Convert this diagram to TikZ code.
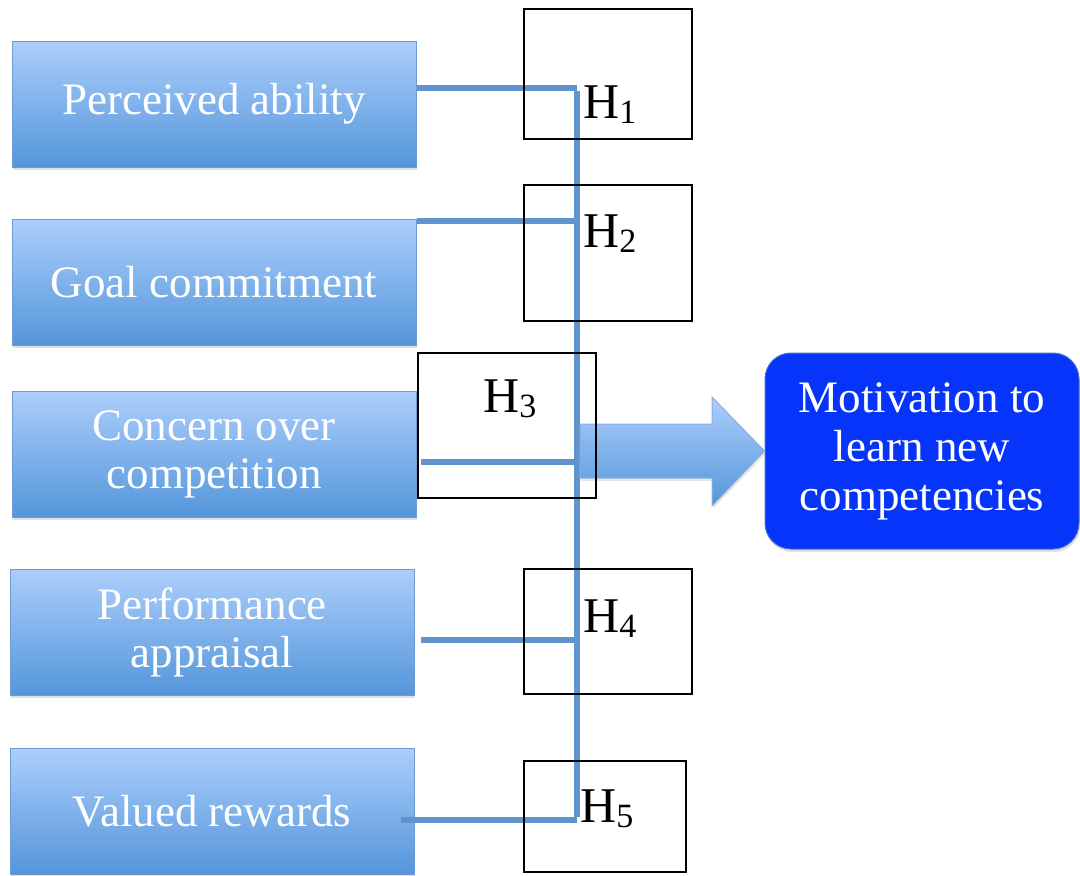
\documentclass[tikz,border=0pt]{standalone}
\usepackage{fontspec}
\setmainfont{Liberation Serif}
\usetikzlibrary{shadows}

\definecolor{boxtop}{RGB}{172,206,252}
\definecolor{boxbot}{RGB}{84,150,218}
\definecolor{boxedge}{RGB}{110,155,210}
\definecolor{linkblue}{RGB}{96,148,204}
\definecolor{goalblue}{RGB}{6,52,250}
\definecolor{goaledge}{RGB}{70,110,210}

% hypothesis label: H with a lowered number
\newcommand{\hyp}[1]{H\raisebox{-5pt}{\fontsize{34}{34}\selectfont #1}}

\tikzset{
  factor/.style={draw=boxedge, line width=1pt, top color=boxtop, bottom color=boxbot,
    minimum width=404pt, minimum height=126pt, inner sep=0pt, align=center, text=white,
    font=\fontsize{45}{48}\selectfont,
    drop shadow={opacity=0.25, shadow xshift=1pt, shadow yshift=-3pt}},
  hbox/.style={draw=black, line width=1.4pt, inner sep=0pt},
  hlabel/.style={anchor=base west, inner sep=0pt, font=\fontsize{50}{50}\selectfont},
  link/.style={draw=linkblue, line width=5.5pt},
}

\begin{document}
\begin{tikzpicture}[x=1pt, y=-1pt]
\useasboundingbox (0,0) rectangle (1080,876);

% antecedents
\node[factor] (pa) at (214,104) {Perceived ability};
\node[factor] (gc) at (214,282) {Goal commitment};
\node[factor] (cc) at (214,454) {Concern over\\competition};
\node[factor] (pf) at (212,632) {Performance\\appraisal};
\node[factor] (rw) at (212,811) {Valued rewards};

% outcome
\node[draw=goaledge, line width=1pt, fill=goalblue, rounded corners=26pt, text=white,
  minimum width=314pt, minimum height=196pt, align=center, font=\fontsize{45}{49}\selectfont,
  drop shadow={opacity=0.25, shadow xshift=1pt, shadow yshift=-3pt}]
  (goal) at (922,451) {Motivation to\\learn new\\competencies};

% joints on the bus
\coordinate (j1) at (577,88);
\coordinate (j2) at (577,221);
\coordinate (j3) at (577,462);
\coordinate (j4) at (577,640);
\coordinate (j5) at (577,820);

\draw[link] (pa.east |- j1) -- (j1);
\draw[link] (gc.east |- j2) -- (j2);
\draw[link] ([xshift=4pt]cc.east |- j3) -- (j3);
\draw[link] ([xshift=6pt]pf.east |- j4) -- (j4);
\draw[link] ([xshift=-14pt]rw.east |- j5) -- (j5);
\draw[link] ([yshift=-2.7pt]j1) -- ([yshift=2.7pt]j5);

% big arrow into the outcome
\draw[draw=boxedge!80, line width=1pt, top color=boxtop, bottom color=boxbot,
  drop shadow={opacity=0.2, shadow xshift=1pt, shadow yshift=-3pt}]
  (580,424) -- (712,424) -- (712,397) -- (goal.west) -- (712,506) -- (712,478) -- (580,478) -- cycle;

% hypothesis boxes
\node[hbox, minimum width=168pt, minimum height=130pt] (h1) at (608,74) {};
\node[hbox, minimum width=168pt, minimum height=136pt] (h2) at (608,253) {};
\node[hbox, minimum width=178pt, minimum height=145pt] (h3) at (507,425.5) {};
\node[hbox, minimum width=168pt, minimum height=125pt] (h4) at (608,631.5) {};
\node[hbox, minimum width=162pt, minimum height=111pt] (h5) at (605,816.5) {};

\node[hlabel] (t1) at (583,118) {\hyp{1}};
\node[hlabel] (t2) at (583,247) {\hyp{2}};
\node[hlabel] (t3) at (483,412) {\hyp{3}};
\node[hlabel] (t4) at (583,632) {\hyp{4}};
\node[hlabel] (t5) at (580,822) {\hyp{5}};
\end{tikzpicture}
\end{document}
